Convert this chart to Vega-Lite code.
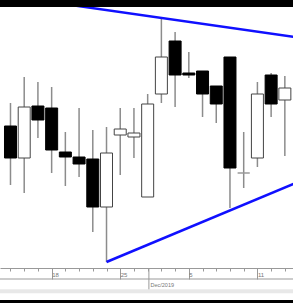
{
  "$schema": "https://vega.github.io/schema/vega-lite/v6.json",
  "width": 293,
  "height": 268,
  "autosize": {"type": "none"},
  "padding": {"left": 0, "top": 0, "right": 0, "bottom": 35},
  "background": "white",
  "config": {"view": {"stroke": null}, "font": "Liberation Sans"},
  "resolve": {"axis": {"x": "independent", "y": "independent"}},
  "datasets": {
    "candles": [
      {"day": 0, "open": 37.4, "high": 39.7, "low": 31.5, "close": 34.2},
      {"day": 1, "open": 34.2, "high": 42.3, "low": 30.7, "close": 39.3},
      {"day": 2, "open": 39.4, "high": 41.8, "low": 36.2, "close": 38.0},
      {"day": 3, "open": 39.2, "high": 41.3, "low": 32.7, "close": 35.0},
      {"day": 4, "open": 34.8, "high": 36.8, "low": 31.4, "close": 34.3},
      {"day": 5, "open": 34.3, "high": 39.2, "low": 32.3, "close": 33.6},
      {"day": 6, "open": 34.1, "high": 37.0, "low": 26.8, "close": 29.3},
      {"day": 7, "open": 29.3, "high": 37.3, "low": 23.8, "close": 34.7},
      {"day": 8, "open": 36.5, "high": 39.2, "low": 32.5, "close": 37.1},
      {"day": 9, "open": 36.3, "high": 39.2, "low": 34.2, "close": 36.7},
      {"day": 10, "open": 30.3, "high": 40.6, "low": 30.3, "close": 39.6},
      {"day": 11, "open": 40.6, "high": 48.2, "low": 39.7, "close": 44.3},
      {"day": 12, "open": 45.9, "high": 46.8, "low": 39.3, "close": 42.5},
      {"day": 13, "open": 42.7, "high": 44.8, "low": 42.2, "close": 42.5},
      {"day": 14, "open": 42.9, "high": 42.9, "low": 38.3, "close": 40.6},
      {"day": 15, "open": 41.4, "high": 41.4, "low": 37.7, "close": 39.6},
      {"day": 16, "open": 44.3, "high": 44.3, "low": 29.2, "close": 33.2},
      {"day": 17, "open": 32.7, "high": 36.8, "low": 31.2, "close": 32.7},
      {"day": 18, "open": 34.2, "high": 41.8, "low": 33.3, "close": 40.6},
      {"day": 19, "open": 42.5, "high": 42.7, "low": 38.3, "close": 39.6},
      {"day": 20, "open": 40.0, "high": 42.4, "low": 34.4, "close": 41.2}
    ],
    "trend": [
      {"line": "upper", "day": 2, "price": 49.97},
      {"line": "upper", "day": 21, "price": 46.25},
      {"line": "lower", "day": 7, "price": 23.8},
      {"line": "lower", "day": 21, "price": 31.83}
    ],
    "one": [{}]
  },
  "layer": [
    {
      "data": {"name": "candles"},
      "mark": {"type": "rule", "color": "#8c8c8c", "strokeWidth": 1.5},
      "encoding": {
        "x": {
          "field": "day", "type": "quantitative",
          "scale": {"domain": [-0.4, 20.23], "nice": false, "zero": false},
          "axis": {
            "orient": "bottom",
            "values": [0,1,2,3,4,5,6,7,8,9,10,11,12,13,14,15,16,17,18,19,20],
            "grid": false,
            "domainColor": "#999999", "domainWidth": 1,
            "tickColor": "#999999", "tickWidth": 1,
            "tickSize": {"condition": {"test": "indexof([3,8,13,18], datum.value) >= 0", "value": 11}, "value": 3},
            "labelExpr": "datum.value == 3 ? '18' : datum.value == 8 ? '25' : datum.value == 13 ? '5' : datum.value == 18 ? '11' : ''",
            "labelAlign": "left", "labelBaseline": "top", "labelPadding": -8, "labelDx": 1,
            "labelFontSize": 6, "labelColor": "#777777",
            "labelFlush": false, "labelOverlap": false, "labelBound": false,
            "title": "Dec/2019", "titleFontSize": 5.5, "titleFontWeight": "normal",
            "titleColor": "#777777", "titleX": 150, "titleY": 14,
            "titleAlign": "left", "titleBaseline": "top"
          }
        },
        "y": {"field": "low", "type": "quantitative", "scale": {"domain": [23.2, 50], "nice": false, "zero": false}, "axis": null},
        "y2": {"field": "high"}
      }
    },
    {
      "data": {"name": "candles"},
      "mark": {"type": "bar", "size": 12, "strokeWidth": 1},
      "encoding": {
        "x": {"field": "day", "type": "quantitative", "axis": null},
        "y": {"field": "open", "type": "quantitative", "axis": null},
        "y2": {"field": "close"},
        "fill": {"condition": {"test": "datum.close >= datum.open", "value": "white"}, "value": "black"},
        "stroke": {"condition": [
          {"test": "datum.close == datum.open", "value": "#999999"},
          {"test": "datum.close > datum.open", "value": "#444444"}
        ], "value": "black"}
      }
    },
    {
      "data": {"name": "trend"},
      "mark": {"type": "line", "color": "#1010ff", "strokeWidth": 2.5, "clip": true},
      "encoding": {
        "x": {"field": "day", "type": "quantitative", "axis": null},
        "y": {"field": "price", "type": "quantitative", "axis": null},
        "detail": {"field": "line"}
      }
    },
    {
      "data": {"name": "one"},
      "mark": {"type": "rule", "color": "#999999", "strokeWidth": 1},
      "encoding": {"y": {"datum": 22.1, "type": "quantitative", "axis": null}}
    },
    {
      "data": {"name": "one"},
      "mark": {"type": "rule", "color": "#999999", "strokeWidth": 1},
      "encoding": {
        "x": {"datum": 10.09, "type": "quantitative", "axis": null},
        "y": {"datum": 23.2, "type": "quantitative", "axis": null},
        "y2": {"datum": 20.9}
      }
    },
    {
      "data": {"name": "one"},
      "mark": {"type": "rule", "color": "#e8e8e8", "strokeWidth": 4},
      "encoding": {"y": {"datum": 20.87, "type": "quantitative", "axis": null}}
    },
    {
      "data": {"name": "one"},
      "mark": {"type": "rule", "color": "black", "strokeWidth": 3},
      "encoding": {"y": {"datum": 19.85, "type": "quantitative", "axis": null}}
    },
    {
      "data": {"name": "one"},
      "mark": {"type": "rule", "color": "black", "strokeWidth": 7},
      "encoding": {"y": {"datum": 49.65, "type": "quantitative", "axis": null}}
    }
  ]
}
